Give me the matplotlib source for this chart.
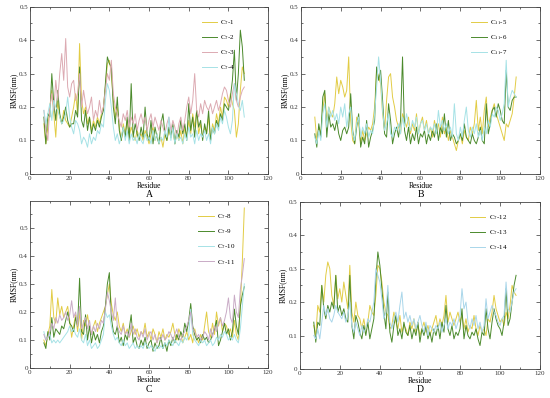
import numpy as np
import matplotlib
matplotlib.use("Agg")
from matplotlib import pyplot as plt
from matplotlib.ticker import MultipleLocator

plt.rcParams['font.family'] = ['Liberation Serif', 'DejaVu Serif']
plt.rcParams['mathtext.fontset'] = 'stix'

residue = np.arange(7, 109)

# panel A
a1 = [.15, .09, .14, .20, .25, .18, .11, .22, .17, .15,
      .19, .16, .15, .14, .17, .20, .24, .18, .39, .22,
      .18, .20, .15, .17, .13, .16, .14, .17, .15, .18,
      .20, .26, .33, .34, .30, .22, .17, .20, .14, .10,
      .15, .12, .16, .11, .14, .12, .10, .13, .11, .12,
      .10, .13, .11, .09, .12, .14, .10, .12, .09, .11,
      .08, .12, .10, .13, .11, .14, .09, .12, .10, .13,
      .09, .14, .11, .16, .12, .18, .14, .19, .12, .15,
      .11, .14, .12, .17, .10, .15, .13, .18, .15, .20,
      .17, .23, .22, .20, .24, .21, .19, .11, .15, .25,
      .32, .30]
a2 = [.17, .09, .18, .17, .30, .21, .16, .25, .18, .15,
      .17, .20, .16, .14, .15, .15, .19, .17, .32, .16,
      .14, .19, .13, .17, .12, .15, .13, .16, .14, .17,
      .19, .27, .35, .33, .32, .20, .15, .23, .13, .10,
      .14, .11, .17, .10, .27, .11, .15, .12, .10, .14,
      .11, .20, .12, .10, .16, .09, .14, .11, .09, .15,
      .18, .12, .10, .14, .11, .15, .09, .13, .11, .16,
      .12, .15, .10, .21, .13, .17, .11, .19, .14, .16,
      .10, .15, .12, .19, .10, .14, .12, .16, .14, .18,
      .16, .21, .20, .19, .23, .28, .37, .22, .30, .43,
      .38, .28]
a3 = [.19, .13, .10, .20, .24, .19, .28, .22, .30, .36,
      .28, .405, .26, .23, .27, .28, .22, .24, .30, .20,
      .25, .21, .18, .20, .23, .16, .19, .17, .22, .18,
      .20, .25, .30, .28, .34, .24, .20, .18, .16, .14,
      .18, .16, .19, .14, .17, .15, .18, .13, .16, .18,
      .15, .17, .13, .16, .18, .14, .17, .15, .13, .16,
      .14, .12, .15, .17, .13, .16, .14, .11, .15, .17,
      .13, .16, .20, .23, .18, .22, .30, .19, .17, .21,
      .18, .22, .20, .19, .21, .18, .20, .22, .19, .21,
      .24, .26, .25, .22, .20, .24, .27, .22, .20, .23,
      .25, .26]
a4 = [.19, .15, .18, .21, .16, .22, .20, .19, .17, .15,
      .16, .18, .23, .17, .14, .12, .16, .15, .13, .09,
      .11, .10, .08, .12, .09, .11, .10, .13, .12, .15,
      .14, .22, .27, .25, .20, .14, .10, .12, .09, .11,
      .14, .10, .13, .09, .12, .10, .11, .09, .12, .10,
      .09, .12, .10, .11, .09, .13, .10, .12, .09, .11,
      .10, .13, .11, .17, .10, .14, .09, .12, .10, .11,
      .09, .12, .10, .14, .11, .12, .09, .13, .10, .12,
      .11, .13, .10, .12, .09, .14, .12, .15, .13, .17,
      .15, .19, .17, .14, .12, .16, .27, .24, .21, .19,
      .22, .17]

# panel B
b5 = [.17, .10, .14, .12, .19, .24, .16, .20, .18, .17,
      .21, .29, .24, .28, .26, .23, .25, .35, .16, .10,
      .09, .17, .15, .09, .13, .10, .12, .14, .13, .15,
      .20, .31, .29, .27, .18, .13, .22, .29, .30, .23,
      .20, .16, .14, .12, .18, .16, .14, .17, .12, .15,
      .13, .18, .12, .15, .17, .13, .16, .12, .14, .11,
      .16, .13, .15, .11, .17, .12, .14, .10, .13, .11,
      .09, .07, .10, .12, .09, .13, .11, .10, .14, .12,
      .15, .22, .13, .17, .12, .19, .23, .14, .17, .19,
      .21, .18, .16, .14, .12, .10, .15, .14, .16, .18,
      .23, .29]
b6 = [.12, .08, .15, .11, .23, .25, .11, .18, .14, .15,
      .13, .16, .12, .10, .13, .14, .12, .14, .24, .13,
      .09, .14, .18, .08, .11, .09, .16, .08, .11, .13,
      .16, .32, .28, .31, .22, .12, .11, .21, .16, .09,
      .12, .14, .11, .16, .35, .13, .10, .14, .09, .12,
      .10, .14, .09, .12, .11, .13, .09, .12, .10, .13,
      .11, .15, .10, .14, .12, .18, .11, .16, .10, .12,
      .11, .09, .10, .12, .10, .15, .11, .10, .09, .12,
      .10, .09, .11, .14, .10, .09, .21, .12, .15, .19,
      .20, .17, .21, .19, .16, .15, .31, .20, .19, .22,
      .23, .23]
b7 = [.11, .09, .13, .10, .18, .21, .14, .20, .17, .19,
      .16, .18, .15, .20, .17, .21, .14, .18, .20, .12,
      .10, .15, .17, .11, .14, .12, .15, .11, .13, .12,
      .18, .26, .35, .28, .19, .13, .15, .18, .12, .11,
      .14, .13, .15, .12, .17, .14, .18, .15, .13, .16,
      .14, .17, .12, .15, .16, .13, .15, .12, .14, .13,
      .15, .12, .19, .14, .16, .13, .15, .12, .14, .11,
      .21, .12, .10, .14, .11, .16, .20, .13, .11, .14,
      .12, .15, .11, .13, .10, .14, .12, .16, .14, .18,
      .17, .20, .19, .16, .18, .21, .34, .20, .23, .25,
      .24, .23]

# panel C
c8 = [.10, .08, .12, .15, .28, .18, .16, .25, .19, .22,
      .18, .20, .22, .17, .11, .15, .19, .13, .20, .10,
      .17, .15, .19, .14, .12, .15, .17, .13, .16, .18,
      .20, .22, .26, .30, .23, .19, .17, .20, .15, .13,
      .16, .12, .14, .11, .13, .15, .12, .14, .11, .13,
      .12, .16, .11, .13, .10, .14, .12, .09, .13, .11,
      .14, .10, .12, .11, .13, .16, .12, .10, .14, .12,
      .09, .11, .13, .10, .12, .09, .14, .11, .09, .12,
      .10, .15, .20, .13, .11, .16, .12, .20, .15, .18,
      .13, .16, .15, .12, .14, .11, .17, .12, .10, .22,
      .38, .57]
c9 = [.09, .07, .13, .10, .18, .11, .14, .13, .12, .15,
      .14, .17, .20, .16, .15, .13, .18, .15, .32, .13,
      .12, .19, .10, .15, .09, .13, .10, .12, .09, .13,
      .15, .22, .30, .34, .18, .13, .12, .15, .09, .11,
      .08, .12, .10, .14, .19, .09, .11, .08, .07, .10,
      .08, .11, .07, .09, .10, .06, .09, .07, .08, .11,
      .07, .09, .06, .10, .08, .11, .09, .12, .10, .13,
      .11, .16, .13, .17, .23, .15, .12, .10, .11, .09,
      .12, .10, .11, .09, .10, .12, .14, .17, .08, .10,
      .13, .16, .12, .14, .10, .13, .21, .15, .12, .22,
      .26, .29]
c10 = [.13, .10, .11, .12, .09, .10, .09, .10, .09, .10,
       .11, .12, .13, .15, .13, .14, .12, .11, .14, .10,
       .09, .12, .08, .10, .07, .08, .09, .07, .08, .10,
       .12, .20, .18, .19, .15, .12, .10, .11, .09, .08,
       .10, .08, .09, .07, .08, .09, .07, .08, .07, .08,
       .07, .09, .08, .07, .08, .07, .06, .08, .07, .08,
       .07, .09, .08, .10, .09, .08, .10, .09, .08, .10,
       .09, .11, .10, .12, .21, .12, .10, .09, .08, .10,
       .09, .10, .08, .09, .10, .08, .09, .11, .10, .12,
       .11, .13, .12, .10, .11, .10, .12, .10, .09, .14,
       .22, .30]
c11 = [.12, .10, .11, .13, .16, .14, .18, .16, .19, .17,
       .18, .20, .17, .19, .24, .18, .20, .15, .22, .14,
       .16, .18, .14, .17, .12, .15, .13, .16, .14, .17,
       .16, .21, .27, .24, .20, .17, .25, .15, .13, .12,
       .15, .12, .13, .11, .16, .12, .14, .11, .10, .13,
       .11, .14, .10, .12, .13, .10, .12, .09, .11, .10,
       .12, .10, .11, .13, .12, .10, .12, .14, .11, .10,
       .12, .13, .15, .17, .20, .14, .13, .11, .12, .10,
       .11, .13, .12, .10, .14, .11, .15, .13, .16, .18,
       .15, .17, .20, .25, .18, .16, .26, .20, .18, .28,
       .33, .39]

# panel D
d12 = [.13, .10, .19, .17, .25, .20, .28, .32, .30, .22,
       .19, .28, .21, .24, .20, .26, .22, .18, .31, .17,
       .14, .20, .16, .15, .12, .15, .11, .14, .19, .17,
       .16, .22, .31, .30, .26, .20, .17, .16, .12, .13,
       .17, .14, .12, .16, .11, .13, .12, .10, .14, .12,
       .15, .11, .13, .10, .12, .14, .11, .13, .10, .12,
       .14, .16, .12, .15, .13, .16, .22, .14, .17, .15,
       .13, .15, .17, .14, .16, .12, .15, .11, .13, .12,
       .16, .12, .10, .13, .11, .12, .10, .15, .14, .17,
       .22, .18, .16, .14, .15, .13, .17, .15, .19, .25,
       .23, .22]
d13 = [.14, .08, .14, .13, .25, .18, .15, .19, .17, .20,
       .18, .28, .17, .19, .16, .18, .15, .14, .28, .13,
       .09, .16, .14, .11, .09, .13, .10, .14, .09, .12,
       .15, .27, .35, .31, .24, .17, .12, .23, .11, .08,
       .13, .16, .10, .12, .09, .14, .11, .10, .13, .09,
       .12, .10, .14, .08, .12, .10, .13, .09, .11, .08,
       .12, .10, .13, .09, .14, .11, .19, .12, .10, .13,
       .09, .11, .10, .12, .18, .09, .13, .10, .09, .11,
       .10, .12, .09, .07, .11, .10, .18, .12, .09, .14,
       .18, .15, .13, .12, .10, .14, .24, .13, .15, .20,
       .25, .28]
d14 = [.10, .09, .12, .09, .14, .19, .16, .18, .15, .14,
       .16, .19, .17, .16, .15, .17, .14, .16, .20, .13,
       .11, .14, .12, .10, .13, .11, .12, .15, .14, .17,
       .20, .30, .28, .26, .21, .15, .17, .25, .14, .12,
       .15, .17, .14, .19, .23, .15, .17, .14, .16, .13,
       .15, .12, .14, .16, .13, .11, .14, .10, .13, .12,
       .11, .13, .12, .14, .11, .13, .15, .12, .14, .13,
       .15, .12, .14, .16, .24, .18, .20, .14, .12, .15,
       .13, .16, .12, .14, .11, .13, .21, .15, .17, .19,
       .17, .16, .14, .13, .15, .16, .26, .18, .17, .20,
       .23, .24]

yellow = '#e2cc45'
green = '#4b8a2c'
pink = '#dcaab2'
cyan = '#a6e2e6'
lilac = '#c9abc6'
blue = '#a9d6ea'

panels = [
    ('A', [0.0545, 0.563, 0.433, 0.42], 0.5,
     [(a1, yellow, 'C$_7$-1'), (a2, green, 'C$_7$-2'),
      (a3, pink, 'C$_7$-3'), (a4, cyan, 'C$_7$-4')]),
    ('B', [0.547, 0.563, 0.435, 0.42], 0.5,
     [(b5, yellow, 'C$_{11}$-5'), (b6, green, 'C$_{11}$-6'),
      (b7, cyan, 'C$_{11}$-7')]),
    ('C', [0.0545, 0.075, 0.433, 0.42], 0.595,
     [(c8, yellow, 'C$_7$-8'), (c9, green, 'C$_7$-9'),
      (c10, cyan, 'C$_7$-10'), (c11, lilac, 'C$_7$-11')]),
    ('D', [0.545, 0.073, 0.437, 0.42], 0.5,
     [(d12, yellow, 'C$_7$-12'), (d13, green, 'C$_7$-13'),
      (d14, blue, 'C$_7$-14')]),
]

fig = plt.figure(figsize=(5.5, 3.98), dpi=100)
for letter, rect, ytop, series in panels:
    ax = fig.add_axes(rect)
    for vals, col, lab in series:
        ax.plot(residue, vals, color=col, lw=0.7, label=lab)
    ax.set_xlim(0, 120)
    ax.set_ylim(0, ytop)
    ax.set_xticks(range(0, 121, 20))
    ax.set_yticks(np.arange(0, 0.51, 0.1))
    ax.set_yticklabels(['0', '0.1', '0.2', '0.3', '0.4', '0.5'])
    ax.xaxis.set_minor_locator(MultipleLocator(10))
    ax.yaxis.set_minor_locator(MultipleLocator(0.05))
    ax.tick_params(which='both', direction='in', top=True, right=True,
                   labelsize=5, width=0.5, pad=1.5, colors='#333333')
    ax.tick_params(which='major', length=3)
    ax.tick_params(which='minor', length=1.5)
    for s in ax.spines.values():
        s.set_linewidth(0.6)
        s.set_color('#444444')
    ax.set_xlabel('Residue', fontsize=5.5, labelpad=0.5)
    ax.set_ylabel('RMSF(nm)', fontsize=5.5, labelpad=1)
    ax.text(0.5, -0.125, letter, transform=ax.transAxes, ha='center',
            va='center', fontsize=7)
    ax.legend(loc='upper right', bbox_to_anchor=(0.89, 0.97), frameon=False,
              fontsize=5, handlelength=2.2, labelspacing=0.9,
              handletextpad=0.5)

fig.savefig('out.png', dpi=100)
